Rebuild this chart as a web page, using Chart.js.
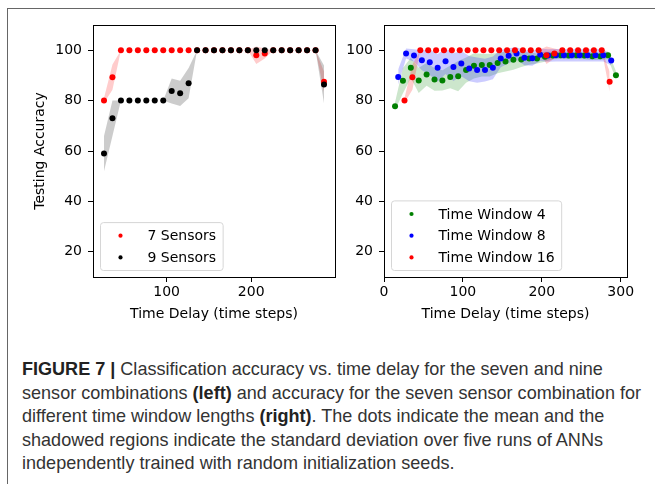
<!DOCTYPE html>
<html>
<head>
<meta charset="utf-8">
<script src="https://cdn.jsdelivr.net/npm/chart.js@4.4.0/dist/chart.umd.min.js"></script>
<style>
  body { margin: 0; background: #fff; width: 655px; height: 484px; overflow: hidden; position: relative; }
  #frame { position: absolute; left: 7px; top: 8px; width: 700px; height: 500px;
           border-top: 1.5px solid #666; border-left: 1.5px solid #666; }
  #left { position: absolute; left: 0; top: 0; }
  #right { position: absolute; left: 345px; top: 0; }
  #caption { position: absolute; left: 22px; top: 357px; white-space: nowrap;
             font-family: "Liberation Sans", Arial, sans-serif;
             font-size: 19px; line-height: 23.5px; color: #333;
             transform: scaleX(0.95); transform-origin: 0 0; }
  #caption b { color: #222; }
</style>
</head>
<body>
<div id="frame"></div>
<canvas id="left" width="345" height="327"></canvas>
<canvas id="right" width="310" height="327"></canvas>
<div id="caption">
<b>FIGURE 7 |</b> Classification accuracy vs. time delay for the seven and nine<br>
sensor combinations <b>(left)</b> and accuracy for the seven sensor combination for<br>
different time window lengths <b>(right)</b>. The dots indicate the mean and the<br>
shadowed regions indicate the standard deviation over five runs of ANNs<br>
independently trained with random initialization seeds.
</div>
<script>
// ===== DATA =====
// time delays (time steps)
const delay27 = [26,36,46,56,66,76,86,96,106,116,126,136,146,156,166,176,186,196,206,216,226,236,246,256,266,276,286];
const delay28 = [18,28,38,48,58,68,78,88,98,108,118,128,138,148,158,168,178,188,198,208,218,228,238,248,258,268,278,288];
const delay29 = [14,24,34,44,54,64,74,84,94,104,114,124,134,144,154,164,174,184,194,204,214,224,234,244,254,264,274,284,294];

// left panel: 7 vs 9 sensors (mean and std, %)
const sensors7 = [80,89.3,100,100,100,100,100,100,100,100,100,100,100,100,100,100,100,100,98,98.7,100,100,100,100,100,100,87.5];
const sensors7Std = [1,5,0,0,0,0,0,0,0,0,0,0,0,0,0,0,0,0,3.5,2,0,0,0,0,0,0,4];
const sensors9 = [59,73,80,80,80,80,80,80,83.8,82.9,86.9,100,100,100,100,100,100,100,100,100,100,100,100,100,100,100,86.4];
const sensors9Std = [7,7,0,0,0,0,0,0,5,5,6,0,0,0,0,0,0,0,0,0,0,0,0,0,0,0,7.5];

// right panel: time windows (7 sensors)
const window4 = [77.8,87.9,93,88,90.4,88.4,88,89.4,89.7,92.1,93.8,94.1,94.1,94.9,95.5,96.2,96.3,96.7,96.7,97.4,97.9,98,97.9,98,97.9,97.6,97.6,98,90.1];
const window4Std = [1.5,5,4,5,4.5,4.5,4,4.5,6,5,5,4.5,4.5,4,4,4,3,2.5,2,2,1.5,1.5,1.5,1.5,1.5,1.5,1.5,1.5,1.5];
const window8 = [89.4,98.7,97.9,96,95.2,93,95.6,93.3,94.7,92.7,92.1,92.1,93,96.7,97.8,98.7,97,96.8,98.2,97.9,98,98,98,98,98,98,98,95.9];
const window8Std = [3,2,2.5,4,5,5.5,5,5.5,5,5,5,4.5,4.5,3.5,3,2.5,3,3,2.5,2.5,2.5,2.5,2.5,2.5,2.5,2.5,2.5,2];
const window16 = sensors7;
const window16Std = sensors7Std;

const yTicks = [20,40,60,80,100];
const xTicksLeft = [100,200];
const xTicksRight = [0,100,200,300];

const FONT = { family: 'DejaVu Sans', size: 14 };

// ===== HELPERS =====
function pts(xs, ys) { return xs.map((x, i) => ({ x: x, y: ys[i] })); }

function series(xs, ys, sd, color, fillColor, order) {
  return [
    { data: pts(xs, ys.map((v, i) => v - sd[i])), pointRadius: 0, borderWidth: 0, fill: false, order: order + 50 },
    { data: pts(xs, ys.map((v, i) => v + sd[i])), pointRadius: 0, borderWidth: 0, fill: '-1', backgroundColor: fillColor, order: order + 50 },
    { data: pts(xs, ys), showLine: false, pointRadius: 3, pointBorderWidth: 0, pointBackgroundColor: color, order: order }
  ];
}

const frame = {
  id: 'frame',
  afterDatasetsDraw(chart) {
    const a = chart.chartArea, ctx = chart.ctx;
    ctx.save();
    ctx.strokeStyle = '#000';
    ctx.lineWidth = 1;
    ctx.strokeRect(Math.round(a.left) + 0.5, Math.round(a.top) + 0.5, Math.round(a.right - a.left), Math.round(a.bottom - a.top));
    ctx.restore();
  }
};

const boxLegend = {
  id: 'boxLegend',
  afterDraw(chart, args, opts) {
    const ctx = chart.ctx, a = chart.chartArea;
    ctx.save();
    ctx.font = FONT.size + 'px ' + FONT.family;
    let w = 0;
    opts.items.forEach(it => { w = Math.max(w, ctx.measureText(it.label).width); });
    const rowH = 21.7;
    const bw = 47 + w + 7, bh = opts.items.length * rowH + 4.5;
    const bx = a.left + 7.5, by = a.bottom - 6.5 - bh;
    ctx.fillStyle = 'rgba(255,255,255,0.8)';
    ctx.strokeStyle = '#d6d6d6';
    ctx.lineWidth = 1;
    ctx.beginPath();
    ctx.roundRect(bx, by, bw, bh, 3);
    ctx.fill();
    ctx.stroke();
    opts.items.forEach((it, i) => {
      const cy = by + 2.25 + rowH / 2 + i * rowH;
      ctx.fillStyle = it.color;
      ctx.beginPath();
      ctx.arc(bx + 20, cy, 2.1, 0, Math.PI * 2);
      ctx.fill();
      ctx.fillStyle = '#000';
      ctx.textBaseline = 'middle';
      ctx.fillText(it.label, bx + 47, cy + 1);
    });
    ctx.restore();
  }
};

function makeChart(id, datasets, cfg) {
  return new Chart(document.getElementById(id), {
    type: 'line',
    data: { datasets: datasets },
    options: {
      responsive: false,
      animation: false,
      events: [],
      layout: { autoPadding: false, padding: { top: 25, left: cfg.padLeft, right: cfg.padRight, bottom: 0 } },
      plugins: { legend: { display: false }, tooltip: { enabled: false }, boxLegend: { items: cfg.legend } },
      elements: { line: { tension: 0 } },
      scales: {
        x: {
          type: 'linear', min: cfg.xMin, max: cfg.xMax,
          afterBuildTicks: s => { s.ticks = cfg.xTicks.map(v => ({ value: v })); },
          afterFit: s => { s.height = 50; },
          grid: { drawOnChartArea: false, color: '#000', tickLength: 5 },
          border: { color: '#000' },
          ticks: { color: '#000', font: FONT, padding: 2, autoSkip: false, maxRotation: 0 },
          title: { display: true, text: 'Time Delay (time steps)', color: '#000', font: FONT }
        },
        y: {
          type: 'linear', min: 10, max: 110,
          afterBuildTicks: s => { s.ticks = yTicks.map(v => ({ value: v })); },
          afterFit: s => { s.width = cfg.yWidth; },
          grid: { drawOnChartArea: false, color: '#000', tickLength: 5 },
          border: { color: '#000' },
          ticks: { color: '#000', font: FONT, padding: 6 },
          title: { display: cfg.yTitle, text: 'Testing Accuracy', color: '#000', font: FONT }
        }
      }
    },
    plugins: [frame, boxLegend]
  });
}

// ===== LEFT: sensors =====
makeChart('left', [
  ...series(delay27, sensors7, sensors7Std, '#ff0000', 'rgba(255,0,0,0.2)', 20),
  ...series(delay27, sensors9, sensors9Std, '#000000', 'rgba(0,0,0,0.2)', 10)
], {
  padLeft: 28, padRight: 10, yWidth: 65, yTitle: true,
  xMin: 13, xMax: 299, xTicks: xTicksLeft,
  legend: [{ label: '7 Sensors', color: '#ff0000' }, { label: '9 Sensors', color: '#000000' }]
});

// ===== RIGHT: time windows =====
makeChart('right', [
  ...series(delay29, window4, window4Std, '#008000', 'rgba(0,128,0,0.2)', 30),
  ...series(delay28, window8, window8Std, '#0000ff', 'rgba(0,0,255,0.2)', 20),
  ...series(delay27, window16, window16Std, '#ff0000', 'rgba(255,0,0,0.2)', 10)
], {
  padLeft: 0, padRight: 28, yWidth: 39, yTitle: false,
  xMin: 0, xMax: 308, xTicks: xTicksRight,
  legend: [{ label: 'Time Window 4', color: '#008000' }, { label: 'Time Window 8', color: '#0000ff' }, { label: 'Time Window 16', color: '#ff0000' }]
});
</script>
</body>
</html>
